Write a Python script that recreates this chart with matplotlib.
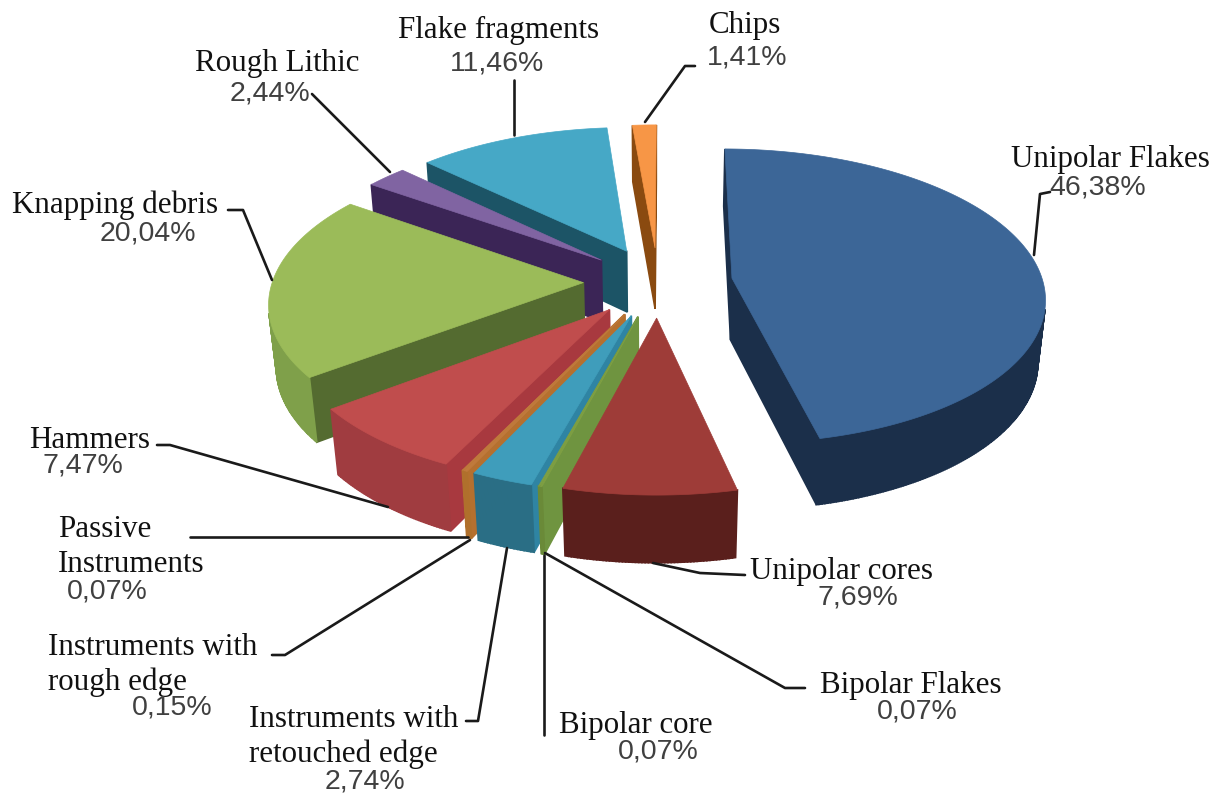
import numpy as np
import matplotlib
matplotlib.use("Agg")
import matplotlib.pyplot as plt
from matplotlib.patches import Polygon

# Sample Data
names = ["Unipolar Flakes", "Unipolar cores", "Bipolar Flakes", "Bipolar core",
         "Instruments with\nretouched edge", "Instruments with\nrough edge",
         "Passive\nInstruments", "Hammers", "Knapping debris", "Rough Lithic",
         "Flake fragments", "Chips"]
values = [46.38, 7.69, 0.07, 0.07, 2.74, 0.15, 0.07, 7.47, 20.04, 2.44, 11.46, 1.41]

# colours per slice: top face, outer wall, side wall
top_col = ["#3c6697", "#9e3c38", "#7e9f43", "#7e9f43", "#3f9dbb", "#c07a3c", "#c07a3c",
           "#c04d4d", "#9bbb59", "#8064a2", "#46a8c6", "#f79646"]
arc_col = ["#1b2f4a", "#5a1f1c", "#6a8a38", "#6a8a38", "#2a6e85", "#b0702c", "#b0702c",
           "#a03c40", "#7fa04a", "#3b2556", "#1c5466", "#d07a30"]
side_col = ["#1b2f4a", "#8a3430", "#6f9440", "#6f9440", "#2f84a3", "#b5702f", "#b5702f",
            "#a8393f", "#546b30", "#3b2556", "#1c5466", "#8a4a10"]

# label layout: name left x, name y, percent centre x, percent centre y
label_pos = [(1011, 159, 1098, 188), (750, 572, 858, 597), (820, 685, 917, 711),
             (559, 726, 658, 752), (249, 737, 365, 781), (48, 665, 172, 708),
             (58, 547, 107, 591), (29, 440, 83, 466), (12, 205, 148, 233),
             (195, 64, 270, 93), (398, 30, 497, 63), (709, 26, 747, 58)]
leaders = [[(1050, 192), (1040, 194), (1034, 255)],
           [(745, 575), (700, 573), (653, 563)],
           [(805, 688), (785, 688), (545, 553)],
           [(544, 735), (544, 555)],
           [(466, 721), (478, 721), (507, 548)],
           [(272, 655), (285, 655), (470, 540)],
           [(190, 537), (468, 537)],
           [(157, 445), (170, 445), (388, 507)],
           [(228, 210), (243, 210), (272, 280)],
           [(312, 94), (390, 172)],
           [(514, 80), (514, 135)],
           [(695, 66), (685, 66), (645, 122)]]

# camera
cx, cy = 658, 282
S, q, k = 311, 0.469, 0.122
wall = 63
shrink = 0.02
start = 0.2
explode = 0.24


def project(X, Y, low=False):
    w = 1 - k * Y
    if low:
        w = w + shrink
        return cx + S * X / w, cy + (S * q * Y + wall) / w
    return cx + S * X / w, cy + S * q * Y / w


def area(pts):
    p = np.array(pts)
    return 0.5 * np.sum(p[:, 0] * np.roll(p[:, 1], -1) - np.roll(p[:, 0], -1) * p[:, 1])


def quad(a, b):
    # a, b are world points on the top rim
    return [project(*a), project(*b), project(*b, low=True), project(*a, low=True)]


fig = plt.figure(figsize=(12.21, 7.95), dpi=100)
ax = fig.add_axes([0, 0, 1, 1])
ax.set_xlim(0, 1221)
ax.set_ylim(795, 0)
ax.axis("off")

edges = start + np.concatenate([[0], np.cumsum(values)]) / np.sum(values) * 360
slices = []
for i in range(len(values)):
    a0, a1 = np.radians(edges[i]), np.radians(edges[i + 1])
    mid = (a0 + a1) / 2
    ox, oy = explode * np.sin(mid), -explode * np.cos(mid)
    t = np.linspace(a0, a1, max(3, int(edges[i + 1] - edges[i]) * 2))
    rim = [(ox + np.sin(v), oy - np.cos(v)) for v in t]
    slices.append((-np.cos(mid), i, (ox, oy), rim))

# far slices first
for depth, i, apex, rim in sorted(slices, key=lambda s: s[0]):
    faces = [(apex, rim[0], side_col[i]), (rim[-1], apex, side_col[i])]
    for a, b in zip(rim[:-1], rim[1:]):
        faces.append((a, b, arc_col[i]))
    faces.sort(key=lambda f: f[0][1] + f[1][1])
    for a, b, c in faces:
        pts = quad(a, b)
        if area(pts) < 0:
            ax.add_patch(Polygon(pts, closed=True, fc=c, ec=c, lw=1.2))
    top = [project(*apex)] + [project(*p) for p in rim]
    ax.add_patch(Polygon(top, closed=True, fc=top_col[i], ec=top_col[i], lw=0.5))

for line in leaders:
    xs, ys = zip(*line)
    ax.plot(xs, ys, color="#1a1a1a", lw=1.9, solid_capstyle="round")

for name, v, (nx, ny, px, py) in zip(names, values, label_pos):
    ax.text(nx, ny, name, family="Liberation Serif", fontsize=22.3, color="#111111",
            ha="left", va="center", linespacing=1.25)
    ax.text(px, py, f"{v:.2f}%".replace(".", ","), family="Liberation Sans", fontsize=20.5,
            color="#404040", ha="center", va="center")

fig.savefig("out.png", dpi=100)
